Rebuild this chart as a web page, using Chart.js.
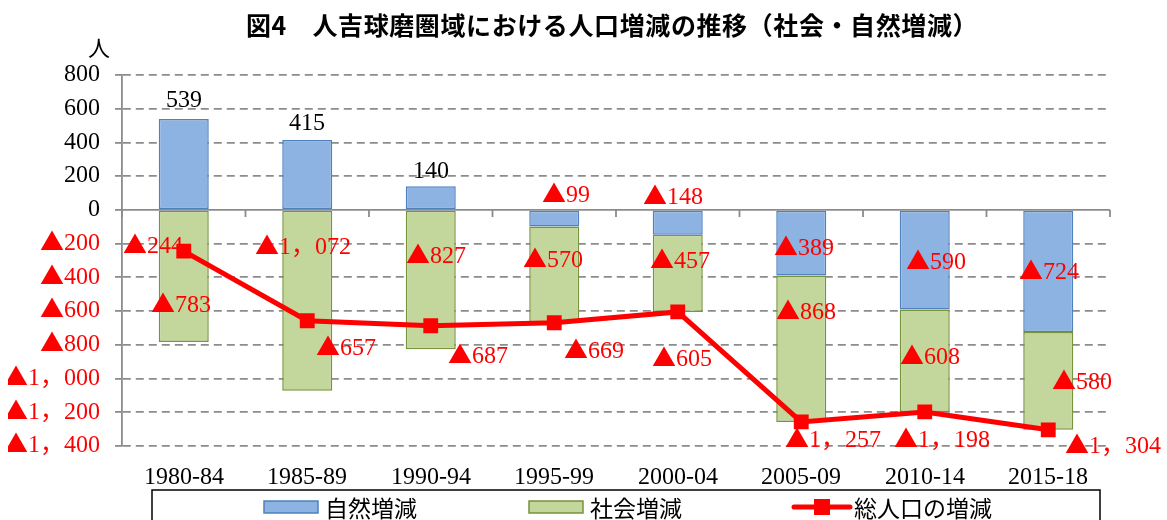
<!DOCTYPE html>
<html lang="ja">
<head>
<meta charset="utf-8">
<title>人吉球磨圏域における人口増減の推移</title>
<script src="https://cdn.jsdelivr.net/npm/chart.js@4/dist/chart.umd.min.js"></script>
<style>
  /* 数字は明朝風の欧文フォント、▲と「，」は全角幅のCJKフォントから */
  @font-face {
    font-family: "NumMincho";
    src: local("Liberation Serif"), local("LiberationSerif");
    unicode-range: U+0000-00FF;
  }
  @font-face {
    font-family: "NumMincho";
    src: local("Noto Sans CJK JP Regular"), local("NotoSansCJKjp-Regular"), local("Noto Sans CJK JP");
    unicode-range: U+25B2, U+FF0C;
  }
  html, body { margin: 0; padding: 0; background: #fff; }
  #wrap { width: 1167px; height: 520px; }
</style>
</head>
<body>
<div id="wrap"><canvas id="popChart" width="1167" height="520"></canvas></div>
<script>
// 期間
const categories = ["1980-84", "1985-89", "1990-94", "1995-99", "2000-04", "2005-09", "2010-14", "2015-18"];
// 自然増減・社会増減・総人口の増減（人）
const naturalChange = [539, 415, 140, -99, -148, -389, -590, -724];
const socialChange = [-783, -1072, -827, -570, -457, -868, -608, -580];
const totalChange = [-244, -657, -687, -669, -605, -1257, -1198, -1304];
// 縦軸の範囲
const yMin = -1400;
const yMax = 800;
const yStep = 200;

const titleText = "図4　人吉球磨圏域における人口増減の推移（社会・自然増減）";
const unitText = "人";

// ラベル位置の微調整（マーク中心からのずれ px）
const naturalLabelShift = [[0, -63], [0, -51], [0, -26], [12, -23], [-5, -25], [3, 6], [11, 3], [1, 1]];
const socialLabelShift = [[-3, 29], [-4, -53], [5, -23], [-1, -14], [2, -12], [5, -36], [5, -3], [34, 2]];
const totalLabelShift = [[-31, -4], [39, 28], [47, 31], [40, 29], [4, 48], [32, 19], [17, 29], [65, 17]];

const RED = "#ff0000";
const GRID = "#8c8c8c";
const NUM_FONT = "NumMincho, 'Liberation Serif', 'Noto Sans CJK JP', serif";
const JP_FONT = "'Noto Sans CJK JP', sans-serif";

// マイナスは▲表記、千の位は「，」区切り
function fmt(v) {
  const a = Math.abs(v);
  let s = a >= 1000 ? Math.floor(a / 1000) + "，" + String(a % 1000).padStart(3, "0") : String(a);
  return v < 0 ? "▲" + s : s;
}

// 0 の線と項目軸の目盛り
const zeroLinePlugin = {
  id: "zeroLine",
  beforeDatasetsDraw(chart) {
    const { ctx, scales: { x, y } } = chart;
    const y0 = y.getPixelForValue(0);
    ctx.save();
    ctx.strokeStyle = GRID;
    ctx.lineWidth = 1.8;
    ctx.beginPath();
    ctx.moveTo(x.left, y0);
    ctx.lineTo(x.right, y0);
    const n = categories.length;
    for (let i = 0; i <= n; i++) {
      const px = x.left + (x.right - x.left) * i / n;
      ctx.moveTo(px, y0);
      ctx.lineTo(px, y0 + 7);
    }
    ctx.stroke();
    ctx.restore();
  }
};

// データラベル
const valueLabelPlugin = {
  id: "valueLabels",
  afterDatasetsDraw(chart) {
    const { ctx } = chart;
    const shifts = [naturalLabelShift, socialLabelShift, totalLabelShift];
    ctx.save();
    ctx.font = "24px " + NUM_FONT;
    ctx.textAlign = "center";
    ctx.textBaseline = "middle";
    chart.data.datasets.forEach((ds, di) => {
      const meta = chart.getDatasetMeta(di);
      meta.data.forEach((el, i) => {
        const v = ds.data[i];
        const cy = ds.type === "line" ? el.y : (el.y + el.base) / 2;
        const [dx, dy] = shifts[di][i];
        ctx.fillStyle = v < 0 ? RED : "#000";
        ctx.fillText(fmt(v), el.x + dx, cy + dy);
      });
    });
    ctx.restore();
  }
};

// タイトル・単位・凡例
const frameTextPlugin = {
  id: "frameText",
  afterDraw(chart) {
    const { ctx } = chart;
    ctx.save();
    ctx.fillStyle = "#000";
    ctx.font = "bold 25px " + JP_FONT;
    ctx.letterSpacing = "0.6px";
    ctx.textAlign = "center";
    ctx.textBaseline = "middle";
    ctx.fillText(titleText, 612, 25);
    ctx.letterSpacing = "0px";

    ctx.font = "22px " + JP_FONT;
    ctx.fillText(unitText, 99, 48);

    // 凡例枠
    ctx.strokeStyle = "#000";
    ctx.lineWidth = 1.5;
    ctx.strokeRect(152, 490, 948, 40);

    const ly = 507;
    ctx.font = "23px " + JP_FONT;
    ctx.textAlign = "left";
    const ds = chart.data.datasets;
    const boxes = [[264, ds[0]], [529, ds[1]]];
    boxes.forEach(([bx, d]) => {
      ctx.fillStyle = d.backgroundColor;
      ctx.fillRect(bx, ly - 6, 54, 12);
      ctx.strokeStyle = d.borderColor;
      ctx.lineWidth = 1.5;
      ctx.strokeRect(bx, ly - 6, 54, 12);
      ctx.fillStyle = "#000";
      ctx.fillText(d.label, bx + 61, ly + 1);
    });
    const lx = 794;
    ctx.strokeStyle = ds[2].borderColor;
    ctx.lineWidth = 5;
    ctx.lineCap = "round";
    ctx.beginPath();
    ctx.moveTo(lx, ly);
    ctx.lineTo(lx + 56, ly);
    ctx.stroke();
    ctx.fillStyle = ds[2].borderColor;
    ctx.fillRect(lx + 28 - 8, ly - 8, 16, 16);
    ctx.fillStyle = "#000";
    ctx.fillText(ds[2].label, lx + 60, ly + 1);
    ctx.restore();
  }
};

function drawChart() {
  new Chart(document.getElementById("popChart"), {
    data: {
      labels: categories,
      datasets: [
        {
          type: "bar",
          label: "自然増減",
          data: naturalChange,
          backgroundColor: "#8db3e2",
          borderColor: "#4f81bd",
          borderWidth: 1.5,
          borderSkipped: false,
          stack: "pop",
          order: 2
        },
        {
          type: "bar",
          label: "社会増減",
          data: socialChange,
          backgroundColor: "#c3d69b",
          borderColor: "#77933c",
          borderWidth: 1.5,
          borderSkipped: false,
          stack: "pop",
          order: 2
        },
        {
          type: "line",
          label: "総人口の増減",
          data: totalChange,
          borderColor: RED,
          backgroundColor: RED,
          borderWidth: 5,
          pointStyle: "rect",
          pointRadius: 10.5,
          pointBorderWidth: 0,
          pointBackgroundColor: RED,
          tension: 0,
          stack: "total",
          order: 1
        }
      ]
    },
    options: {
      responsive: false,
      animation: false,
      events: [],
      layout: { padding: { left: 8, right: 57, top: 75, bottom: 30 } },
      datasets: { bar: { categoryPercentage: 1, barPercentage: 0.405 } },
      plugins: {
        legend: { display: false },
        title: { display: false },
        tooltip: { enabled: false }
      },
      scales: {
        x: {
          stacked: true,
          grid: { display: false, drawTicks: false },
          border: { display: false },
          ticks: {
            color: "#000",
            padding: 17,
            font: { family: NUM_FONT, size: 24 }
          },
          afterFit(scale) { scale.height = 44; }
        },
        y: {
          stacked: true,
          min: yMin,
          max: yMax,
          ticks: {
            stepSize: yStep,
            padding: 15,
            color: (c) => (c.tick && c.tick.value < 0 ? RED : "#000"),
            font: { family: NUM_FONT, size: 24 },
            callback: (v) => fmt(v)
          },
          grid: {
            color: (c) => (c.tick && c.tick.value === 0 ? "rgba(0,0,0,0)" : GRID),
            tickColor: GRID,
            lineWidth: 1.8,
            tickLength: 7
          },
          border: { display: true, color: GRID, width: 1.8, dash: [8, 5] },
          afterFit(scale) { scale.width = 114; }
        }
      }
    },
    plugins: [zeroLinePlugin, valueLabelPlugin, frameTextPlugin]
  });
}

// ローカルフォントを読み込んでから描画
document.fonts.load("24px NumMincho", "▲1，0").then(drawChart, drawChart);
</script>
</body>
</html>
